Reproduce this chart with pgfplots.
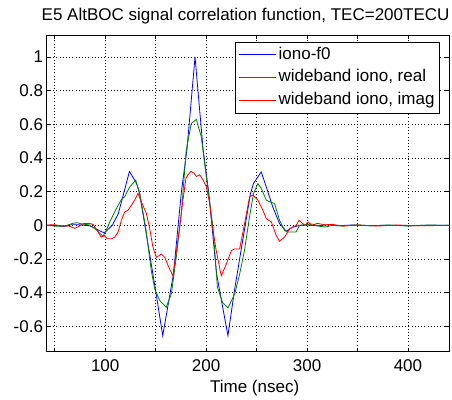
\documentclass[border=0pt]{standalone}
\usepackage{fontspec}
\setmainfont{Liberation Sans}
\usepackage{pgfplots}
\pgfplotsset{compat=1.18}
\definecolor{mblue}{rgb}{0,0,1}
\definecolor{mgreen}{rgb}{0,0.5,0}
\definecolor{mred}{rgb}{1,0,0}
\begin{document}
\begin{tikzpicture}
\useasboundingbox (0,0) rectangle (452pt,399pt);
\begin{axis}[
  at={(46.7pt,47.3pt)}, anchor=south west,
  scale only axis, width=402.6pt, height=316.7pt,
  xmin=42, xmax=441, ymin=-0.75, ymax=1.13,
  xtick={50,100,150,200,250,300,350,400},
  xticklabels={,100,,200,,300,,400},
  ytick={-0.6,-0.4,-0.2,0,0.2,0.4,0.6,0.8,1},
  yticklabels={-0.6,-0.4,-0.2,0,0.2,0.4,0.6,0.8,1},
  tick align=inside, major tick length=4pt,
  tick style={black, line width=0.6pt},
  axis line style={black, line width=0.8pt},
  grid=major,
  grid style={black, line width=0.6pt, dash pattern=on 0.8pt off 2.4pt},
  ticklabel style={font=\fontsize{17}{20}\selectfont},
  xticklabel style={anchor=base, yshift=-20pt, inner sep=0pt},
  yticklabel style={anchor=east, xshift=-3.5pt, inner sep=0pt},
  xlabel={Time (nsec)},
  xlabel style={at={(axis description cs:0.5165,0)}, anchor=base, yshift=-40.6pt, inner sep=0pt, font=\fontsize{17}{20}\selectfont},
  title={E5 AltBOC signal correlation function, TEC=200TECU},
  title style={at={(axis description cs:0.494,1)}, anchor=base, yshift=8.3pt, inner sep=0pt, font=\fontsize{17}{20}\selectfont},
  legend style={at={(axis description cs:1,1)}, anchor=north east, xshift=-9.3pt, yshift=-6.7pt,
    draw=black, line width=0.8pt, font=\fontsize{17}{20}\selectfont, row sep=3.3pt,
    inner xsep=3pt, inner ysep=3pt,
    nodes={text height=12pt, text depth=3.5pt, inner xsep=2pt, inner ysep=2pt}},
  legend cell align=left,
  legend image code/.code={\draw[#1] (0pt,0pt) -- (37.7pt,0pt);},
  every axis plot/.append style={line width=0.8pt},
]
\addplot[mblue] coordinates {
(42,0.001) (50,-0.001) (60,-0.006) (66,0.003) (72,0.004) (80,0.0) (85,-0.003)
(99,-0.045) (107,0) (113,0.07) (124,0.32) (131,0.25) (134,0.19) (144,-0.17)
(150,-0.39) (157,-0.655) (167.6,-0.29) (175.5,0.2) (181,0.45) (189,1.0)
(197,0.45) (202.5,0.2) (210.4,-0.29) (221.6,-0.655) (228,-0.39) (234,-0.17)
(244,0.19) (247,0.25) (254.6,0.317) (259.6,0.228) (266,0.11) (272.8,0.01)
(279.4,-0.035) (286,-0.01) (293,0) (300,0.002) (310,-0.003) (320,0.003)
(330,-0.002) (345,0.002) (360,-0.002) (380,0.001) (400,-0.002) (420,0.001) (441,0)
};
\addplot[mgreen] coordinates {
(42,0) (50,-0.004) (56,-0.006) (62,0.0) (68,0.012) (72,0.016) (77,0.008) (84,0.003)
(90,-0.02) (97.8,-0.065) (101,-0.03) (104.5,0.02) (111,0.10) (116,0.153) (119.3,0.17)
(124.3,0.228) (130.2,0.268) (134.2,0.19) (140,-0.01) (145.7,-0.27) (149,-0.377)
(154,-0.446) (160.4,-0.486) (165.5,-0.407) (170.4,-0.19) (175.4,0.07) (180.3,0.446)
(185.3,0.605) (190.3,0.629) (195.2,0.526) (200.2,0.288) (206.8,-0.01) (211.2,-0.367)
(216.2,-0.457) (221.6,-0.49) (228.2,-0.41) (233.2,-0.29) (238,-0.15) (243,0.05)
(247,0.19) (251.3,0.248) (254.6,0.22) (259.6,0.15) (262.9,0.14) (267.8,0.13)
(272.8,0.03) (277.7,-0.03) (281,-0.04) (289,-0.04) (292.6,0.0) (298,0.004)
(305,0.008) (312,-0.005) (318,-0.01) (325,0.0) (335,-0.004) (350,0.003)
(365,-0.003) (380,0.002) (400,-0.004) (420,0.002) (441,0)
};
\addplot[mred] coordinates {
(42,0.002) (50,0.004) (56,-0.003) (64,-0.004) (69.8,-0.018) (74,-0.005) (78,0.01)
(84,0.012) (88,0.005) (92,-0.03) (96,-0.07) (99,-0.06) (102,-0.08) (106,-0.08)
(109.4,-0.07) (112.7,-0.04) (116,0.03) (119.3,0.08) (122.6,0.09) (126,0.12)
(129.2,0.15) (132.5,0.19) (135.8,0.14) (140.8,0.07) (144.1,-0.02) (147.3,-0.13)
(150.7,-0.19) (155.6,-0.17) (159,-0.19) (162.4,-0.24) (167.1,-0.30) (170.6,-0.15)
(174,0.0) (177,0.15) (180,0.28) (182,0.30) (185,0.32) (188,0.31) (190.3,0.29)
(193.6,0.30) (196.9,0.27) (200.2,0.23) (203.5,0.13) (206,0.0) (210,-0.15)
(215,-0.30) (220,-0.23) (225,-0.15) (228.2,-0.14) (233.2,-0.14) (238.1,0.01)
(243.1,0.17) (246.3,0.18) (251.3,0.15) (256.2,0.09) (259.6,0.04) (264.6,0.02)
(269.5,-0.06) (272.8,-0.095) (277.7,-0.07) (282.7,-0.02) (289.3,0.0) (292,0.03)
(297.5,0.0) (300.8,0.02) (305,0.0) (310,0.012) (318,0.003) (325,0.006)
(335,-0.004) (350,0.002) (370,-0.004) (390,0.002) (410,-0.003) (441,0)
};
\legend{iono-f0, {wideband iono, real}, {wideband iono, imag}}
\end{axis}
\end{tikzpicture}
\end{document}
